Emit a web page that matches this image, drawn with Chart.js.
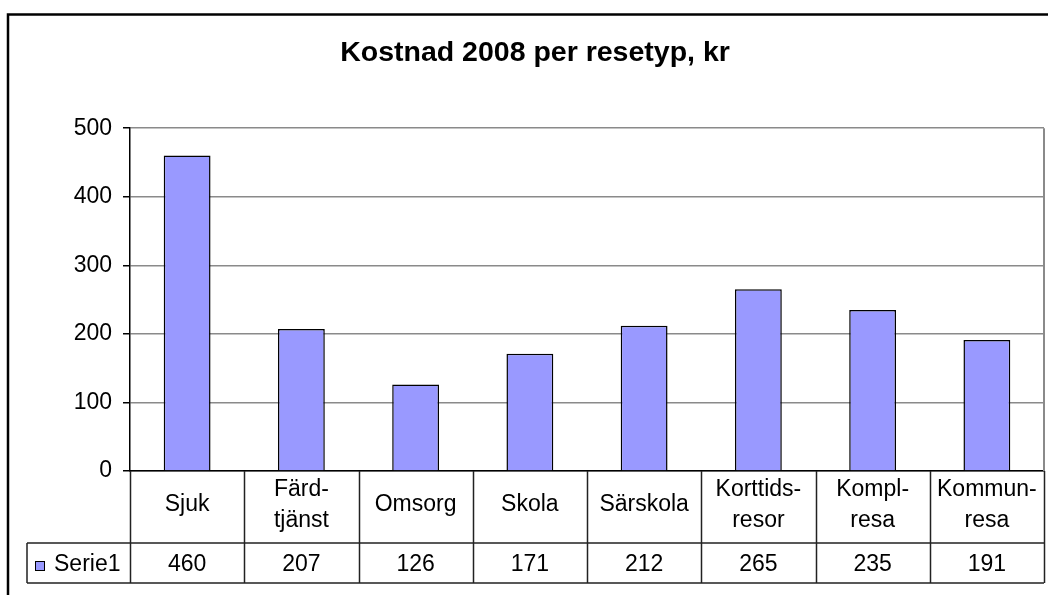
<!DOCTYPE html>
<html>
<head>
<meta charset="utf-8">
<script src="https://cdn.jsdelivr.net/npm/chart.js@4.4.0/dist/chart.umd.min.js"></script>
<style>
  html, body { margin: 0; padding: 0; background: #fff; }
  #wrap { width: 1048px; height: 595px; position: relative; }
</style>
</head>
<body>
<div id="wrap"><canvas id="costChart"></canvas></div>
<script>
// data
var categories = ['Sjuk', 'Färdtjänst', 'Omsorg', 'Skola', 'Särskola', 'Korttidsresor', 'Komplresa', 'Kommunresa'];
var categoryLines = [['Sjuk'], ['Färd-', 'tjänst'], ['Omsorg'], ['Skola'], ['Särskola'], ['Korttids-', 'resor'], ['Kompl-', 'resa'], ['Kommun-', 'resa']];
var serie1 = [460, 207, 126, 171, 212, 265, 235, 191];
var seriesName = 'Serie1';
var yTicks = [0, 100, 200, 300, 400, 500];

var FONT = "'Liberation Sans', Arial, sans-serif";
var BAR_COLOR = '#9999FF';

// draws the excel style data table under the plot + frame
const dataTable = {
  id: 'dataTable',
  afterDraw(chart) {
    const {ctx, chartArea: {left, right, top, bottom}, scales: {x}} = chart;
    const catRow = bottom + 72;
    const valRow = bottom + 112;
    const legendLeft = 27;

    ctx.save();
    // right border of plot
    ctx.strokeStyle = '#8a8a8a';
    ctx.lineWidth = 2;
    ctx.beginPath();
    ctx.moveTo(right, top);
    ctx.lineTo(right, bottom);
    ctx.stroke();

    // table grid
    ctx.strokeStyle = '#222';
    ctx.lineWidth = 1.5;
    ctx.beginPath();
    for (var i = 0; i <= categories.length; i++) {
      var xp = Math.round(x.getPixelForValue(i - 0.5)) + 0.5;
      ctx.moveTo(xp, bottom);
      ctx.lineTo(xp, valRow);
    }
    ctx.moveTo(legendLeft, catRow);
    ctx.lineTo(right, catRow);
    ctx.moveTo(legendLeft, valRow);
    ctx.lineTo(right, valRow);
    ctx.moveTo(legendLeft, catRow);
    ctx.lineTo(legendLeft, valRow);
    ctx.stroke();

    // texts
    ctx.fillStyle = '#000';
    ctx.font = '23px ' + FONT;
    ctx.textAlign = 'center';
    ctx.textBaseline = 'middle';
    var lineH = 30.5;
    var catMid = bottom + 34;
    categoryLines.forEach((lines, i) => {
      var cx = x.getPixelForValue(i);
      var y0 = catMid - (lines.length - 1) * lineH / 2;
      lines.forEach((ln, j) => ctx.fillText(ln, cx, y0 + j * lineH));
      ctx.fillText(String(serie1[i]), cx, bottom + 94);
    });

    // legend key
    ctx.fillStyle = BAR_COLOR;
    ctx.fillRect(35, 561, 10, 10);
    ctx.strokeStyle = '#000';
    ctx.lineWidth = 1;
    ctx.strokeRect(35.5, 561.5, 9, 9);
    ctx.fillStyle = '#000';
    ctx.textAlign = 'left';
    ctx.fillText(seriesName, 54, bottom + 94);

    // outer chart frame
    ctx.strokeStyle = '#000';
    ctx.lineWidth = 2.5;
    ctx.strokeRect(8, 14.5, 1100, 700);
    ctx.restore();
  }
};

const _data = {
  labels: categories,
  datasets: [{
    label: seriesName,
    data: serie1,
    backgroundColor: BAR_COLOR,
    borderColor: '#000',
    borderWidth: 1.5,
    barPercentage: 0.41,
    categoryPercentage: 1
  }]
};

const _config = {
  type: 'bar',
  data: _data,
  plugins: [dataTable],
  options: {
    responsive: true,
    maintainAspectRatio: false,
    animation: false,
    layout: { padding: { left: 26, right: 4, top: 0, bottom: 0 } },
    plugins: {
      legend: { display: false },
      tooltip: { enabled: false },
      title: {
        display: true,
        text: 'Kostnad 2008 per resetyp, kr',
        color: '#000',
        font: { family: FONT, size: 28.5, weight: 'bold', lineHeight: 1.2 },
        padding: { top: 36, bottom: 58 }
      }
    },
    scales: {
      x: {
        grid: { display: false, drawTicks: false },
        ticks: { display: false },
        border: { color: '#000', width: 1.5 },
        afterFit: (scale) => { scale.height = 124; }
      },
      y: {
        min: yTicks[0],
        max: yTicks[yTicks.length - 1],
        afterBuildTicks: (scale) => { scale.ticks = yTicks.map(v => ({ value: v })); },
        ticks: {
          color: '#000',
          padding: 11,
          font: { family: FONT, size: 23 }
        },
        grid: { color: '#8a8a8a', lineWidth: 1.5, tickLength: 7, tickColor: '#000' },
        border: { color: '#000', width: 1.5 },
        afterFit: (scale) => { scale.width = 104; }
      }
    }
  }
};

const myChart = new Chart(document.getElementById('costChart'), _config);
</script>
</body>
</html>
